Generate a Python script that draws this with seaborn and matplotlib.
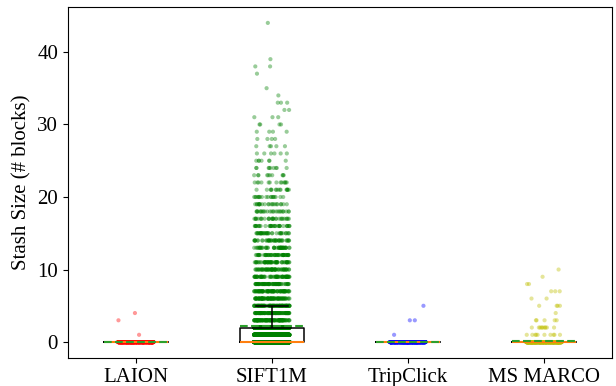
import numpy as np
import pandas as pd
import matplotlib
matplotlib.use("Agg")
import matplotlib.pyplot as plt
import seaborn as sns

# ---- data (value -> number of queries) ----
datasets = ["LAION", "SIFT1M", "TripClick", "MS MARCO"]
point_colors = ["red", "green", "blue", "y"]

laion_values = [0, 1, 3, 4]
laion_counts = [1000, 1, 1, 1]

sift_values = list(range(0, 40)) + [44]
sift_counts = [3500, 1200, 900, 110, 100, 90, 85, 80, 72, 66,
               60, 54, 50, 45, 40, 36, 32, 28, 25, 22,
               18, 15, 13, 10, 9, 7, 6, 5, 4, 4,
               4, 3, 2, 3, 1, 1, 0, 1, 2, 1,
               1]

trip_values = [0, 1, 3, 5]
trip_counts = [1000, 1, 2, 1]

marco_values = [0, 1, 2, 3, 4, 5, 6, 7, 8, 9, 10]
marco_counts = [1000, 10, 10, 5, 1, 4, 2, 3, 2, 1, 1]

ylabel = "Stash Size (# blocks)"

# ---- build long table ----
frames = []
for name, vals, cnts in [("LAION", laion_values, laion_counts),
                         ("SIFT1M", sift_values, sift_counts),
                         ("TripClick", trip_values, trip_counts),
                         ("MS MARCO", marco_values, marco_counts)]:
    frames.append(pd.DataFrame({"dataset": name,
                                "stash": np.repeat(vals, cnts)}))
df = pd.concat(frames, ignore_index=True)

plt.rcParams["font.family"] = ["Liberation Serif", "DejaVu Serif"]
plt.rcParams["font.size"] = 15

np.random.seed(0)
fig = plt.figure(figsize=(6.16, 3.86), dpi=100)
ax = fig.add_axes([0.110, 0.0725, 0.8835, 0.9095])

sns.stripplot(data=df, x="dataset", y="stash", hue="dataset",
              order=datasets, hue_order=datasets, palette=point_colors,
              jitter=0.13, size=3.0, alpha=0.4, linewidth=0,
              legend=False, ax=ax, zorder=1)

sns.boxplot(data=df, x="dataset", y="stash", order=datasets,
            fill=False, color="black", width=0.47, showfliers=False,
            linewidth=1.1,
            medianprops={"color": "#ff7f0e", "linewidth": 1.5},
            showmeans=True, meanline=True,
            meanprops={"color": "#2ca02c", "linestyle": "--", "linewidth": 1.5},
            ax=ax)

ax.set_xlabel("")
ax.set_ylabel(ylabel, fontsize=15)
ax.set_yticks([0, 10, 20, 30, 40])
ax.tick_params(labelsize=15)
ax.set_xlim(-0.5, 3.5)
ax.set_ylim(-2.2, 46.2)

fig.savefig("out.png", dpi=100)
